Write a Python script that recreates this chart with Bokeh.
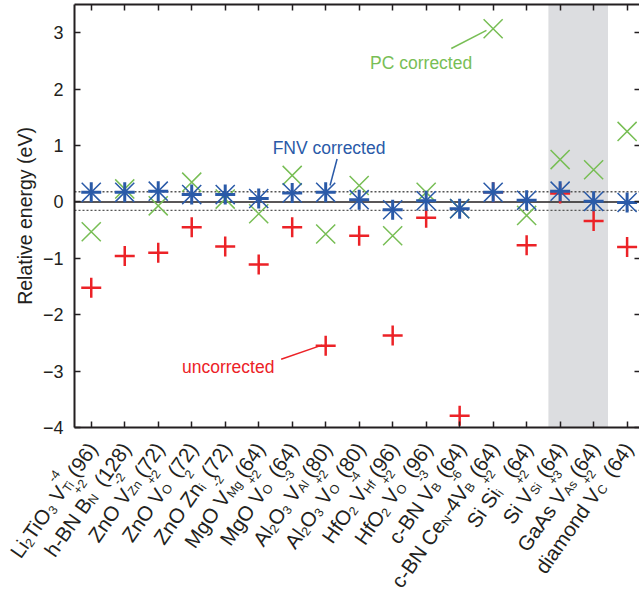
import math
from bokeh.plotting import figure
from bokeh.models import (ColumnDataSource, Label, FixedTicker, LinearAxis,
                          BoxAnnotation, Span, Range1d)
from bokeh.embed import file_html
from bokeh.resources import INLINE
from bokeh.core.properties import value

# ---------------- data ----------------
categories = ["Li2TiO3 VTi-4 (96)", "h-BN BN+2 (128)", "ZnO VZn-2 (72)", "ZnO VO+2 (72)",
              "ZnO Zni2 (72)", "MgO VMg-2 (64)", "MgO VO+2 (64)", "Al2O3 VAl-3 (80)",
              "Al2O3 VO+2 (80)", "HfO2 VHf-4 (96)", "HfO2 VO+2 (96)", "c-BN VB-3 (64)",
              "c-BN CeN-4VB-6 (64)", "Si Sii+2 (64)", "Si VSi+2 (64)", "GaAs VAs+3 (64)",
              "diamond VC+2 (64)"]

# tick labels split into (text, kind): n = normal, b = subscript, p = superscript
tick_label_parts = [
    [("Li", "n"), ("2", "b"), ("TiO", "n"), ("3", "b"), (" V", "n"), ("Ti", "b"), ("-4", "p"), (" (96)", "n")],
    [("h-BN B", "n"), ("N", "b"), ("+2", "p"), (" (128)", "n")],
    [("ZnO V", "n"), ("Zn", "b"), ("-2", "p"), (" (72)", "n")],
    [("ZnO V", "n"), ("O", "b"), ("+2", "p"), (" (72)", "n")],
    [("ZnO Zn", "n"), ("i", "b"), ("2", "p"), (" (72)", "n")],
    [("MgO V", "n"), ("Mg", "b"), ("-2", "p"), (" (64)", "n")],
    [("MgO V", "n"), ("O", "b"), ("+2", "p"), (" (64)", "n")],
    [("Al", "n"), ("2", "b"), ("O", "n"), ("3", "b"), (" V", "n"), ("Al", "b"), ("-3", "p"), (" (80)", "n")],
    [("Al", "n"), ("2", "b"), ("O", "n"), ("3", "b"), (" V", "n"), ("O", "b"), ("+2", "p"), (" (80)", "n")],
    [("HfO", "n"), ("2", "b"), (" V", "n"), ("Hf", "b"), ("-4", "p"), (" (96)", "n")],
    [("HfO", "n"), ("2", "b"), (" V", "n"), ("O", "b"), ("+2", "p"), (" (96)", "n")],
    [("c-BN V", "n"), ("B", "b"), ("-3", "p"), (" (64)", "n")],
    [("c-BN Ce", "n"), ("N", "b"), ("-4V", "n"), ("B", "b"), ("-6", "p"), (" (64)", "n")],
    [("Si Si", "n"), ("i", "b"), ("+2", "p"), (" (64)", "n")],
    [("Si V", "n"), ("Si", "b"), ("+2", "p"), (" (64)", "n")],
    [("GaAs V", "n"), ("As", "b"), ("+3", "p"), (" (64)", "n")],
    [("diamond V", "n"), ("C", "b"), ("+2", "p"), (" (64)", "n")],
]

uncorrected = [-1.52, -0.96, -0.90, -0.45, -0.79, -1.11, -0.45, -2.55, -0.60,
               -2.37, -0.28, -3.79, 0.17, -0.77, 0.15, -0.34, -0.80]
pc_corrected = [-0.53, 0.23, -0.07, 0.35, 0.05, -0.21, 0.47, -0.57, 0.29,
                -0.60, 0.17, -0.12, 3.07, -0.24, 0.75, 0.57, 1.25]
fnv_corrected = [0.17, 0.17, 0.19, 0.13, 0.13, 0.06, 0.16, 0.17, 0.04,
                 -0.14, 0.02, -0.12, 0.17, 0.03, 0.19, 0.01, -0.01]

band = [13.65, 15.43]
y_ticks = [-4, -3, -2, -1, 0, 1, 2, 3]
y_tick_labels = ["\u22124", "\u22123", "\u22122", "\u22121", "0", "1", "2", "3"]
tolerance_lines = [0.18, -0.15]

# annotations: text, position, pointer line
pc_note = dict(text="PC corrected", x=9.85, y=2.47, x0=10.75, y0=2.72, x1=11.8, y1=3.04)
fnv_note = dict(text="FNV corrected", x=7.1, y=0.96, x0=7.34, y0=0.76, x1=7.13, y1=0.29)
unc_note = dict(text="uncorrected", x=4.09, y=-2.92, x0=5.67, y0=-2.79, x1=6.89, y1=-2.54)

RED = "#EC2227"
GREEN = "#78BE55"
BLUE = "#2A5AA8"
INK = "#231F20"
FONT = "Liberation Sans"

# ---------------- layout constants ----------------
W_TOTAL, H_TOTAL = 639, 591
H_MAIN = 437
FRAME_LEFT, FRAME_TOP, FRAME_BOTTOM_PAD = 74, 4, 10
X_START, X_END = -0.5, 16.37

# ---------------- main figure ----------------
p = figure(width=W_TOTAL, height=H_MAIN, x_range=Range1d(X_START, X_END), y_range=Range1d(-4, 3.5),
           output_backend="svg", toolbar_location=None,
           min_border_left=FRAME_LEFT, min_border_right=0, min_border_top=FRAME_TOP,
           min_border_bottom=FRAME_BOTTOM_PAD)
p.outline_line_color = None
p.xgrid.visible = False
p.ygrid.visible = False
p.background_fill_color = "white"
p.border_fill_color = "white"

xs = list(range(len(categories)))
blank_x = {t: "" for t in xs}
blank_y = {t: "" for t in y_ticks}

p.xaxis.ticker = FixedTicker(ticks=xs)
p.xaxis.major_label_overrides = blank_x
p.xaxis.major_label_standoff = 0
p.xaxis.major_tick_in = 6
p.xaxis.major_tick_out = 0
p.xaxis.major_tick_line_width = 1.5
p.xaxis.axis_line_width = 2
p.xaxis.axis_line_color = INK
p.xaxis.major_tick_line_color = INK

p.yaxis.ticker = FixedTicker(ticks=y_ticks)
p.yaxis.major_label_overrides = {t: l for t, l in zip(y_ticks, y_tick_labels)}
p.yaxis.major_label_text_font_size = "18px"
p.yaxis.major_label_text_line_height = 1.0
p.yaxis.major_label_text_font = FONT
p.yaxis.major_label_text_color = INK
p.yaxis.major_label_standoff = 11
p.yaxis.major_tick_in = 6
p.yaxis.major_tick_out = 0
p.yaxis.major_tick_line_width = 1.5
p.yaxis.axis_line_width = 2
p.yaxis.axis_line_color = INK
p.yaxis.major_tick_line_color = INK
p.yaxis.axis_label = "Relative energy (eV)"
p.yaxis.axis_label_text_font = FONT
p.yaxis.axis_label_text_font_style = "normal"
p.yaxis.axis_label_text_font_size = "19.5px"
p.yaxis.axis_label_text_color = INK
p.yaxis.axis_label_standoff = 4

top_axis = LinearAxis(ticker=FixedTicker(ticks=xs), major_label_overrides=blank_x,
                      major_label_standoff=0, major_tick_in=6, major_tick_out=0,
                      major_tick_line_width=1.5, axis_line_width=2,
                      axis_line_color=INK, major_tick_line_color=INK)
p.add_layout(top_axis, "above")
right_axis = LinearAxis(ticker=FixedTicker(ticks=y_ticks), major_label_overrides=blank_y,
                        major_label_standoff=0, major_tick_in=5, major_tick_out=0,
                        major_tick_line_width=1.5, axis_line_color=None,
                        major_tick_line_color=INK)
p.add_layout(right_axis, "right")

p.add_layout(BoxAnnotation(left=band[0], right=band[1], fill_color="#DCDDE0", fill_alpha=1.0,
                           line_color=None, level="underlay"))
p.add_layout(Span(location=0, dimension="width", line_color=INK, line_width=1.5, level="underlay"))
for loc in tolerance_lines:
    p.add_layout(Span(location=loc, dimension="width", line_color="#555555", line_width=1.3,
                      line_dash="2 2", level="underlay"))

src = ColumnDataSource(dict(x=xs, unc=uncorrected, pc=pc_corrected, fnv=fnv_corrected))
p.scatter("x", "unc", source=src, marker="cross", size=20, line_color=RED, line_width=2.5)
p.scatter("x", "pc", source=src, marker="x", size=27, line_color=GREEN, line_width=1.5)
p.scatter("x", "fnv", source=src, marker="x", size=27, line_color=BLUE, line_width=1.5)
p.scatter("x", "fnv", source=src, marker="cross", size=20, line_color=BLUE, line_width=3)

for note, col in [(pc_note, GREEN), (fnv_note, BLUE), (unc_note, RED)]:
    p.segment(x0=[note["x0"]], y0=[note["y0"]], x1=[note["x1"]], y1=[note["y1"]],
              line_color=col, line_width=1.5)
    p.add_layout(Label(x=note["x"], y=note["y"], text=note["text"], text_color=col,
                       text_font=FONT, text_font_size="17.5px", text_align="center",
                       text_baseline="middle"))

# ---------------- label strip: rotated rich tick labels ----------------
H_LAB = H_TOTAL - H_MAIN
frame_w = W_TOTAL - FRAME_LEFT
px_per_unit = frame_w / (X_END - X_START)
x2_start = X_START - FRAME_LEFT / px_per_unit
q = figure(width=W_TOTAL, height=H_LAB, x_range=Range1d(x2_start, X_END),
           y_range=Range1d(-H_LAB, 0), output_backend="svg", toolbar_location=None,
           x_axis_location=None, y_axis_location=None,
           min_border_left=0, min_border_right=0, min_border_top=0, min_border_bottom=0)
q.outline_line_color = None
q.xgrid.visible = False
q.ygrid.visible = False
q.border_fill_color = "white"

W1000 = {' ': 278, '(': 333, ')': 333, '-': 333, '+': 584,
         'A': 667, 'B': 667, 'C': 722, 'G': 778, 'H': 722, 'L': 556, 'M': 833, 'N': 722,
         'O': 778, 'S': 667, 'T': 611, 'V': 667, 'Z': 611,
         'a': 556, 'c': 500, 'd': 556, 'e': 556, 'f': 278, 'g': 556, 'h': 556, 'i': 222,
         'l': 222, 'm': 833, 'n': 556, 'o': 556, 'r': 333, 's': 500, 't': 278}


def text_width(s, size):
    return sum(W1000.get(ch, 556) for ch in s) * size / 1000.0


MAIN, SMALL = 20.5, 12.5
SHIFT = {"n": 0.0, "b": -5.0, "p": 13.5}
axis_bottom_px = H_MAIN - FRAME_BOTTOM_PAD
END_DX, END_DY = 1.0, 17.0
ANG = math.radians(55)
ca, sa = math.cos(ANG), math.sin(ANG)

lab = {"n": dict(x=[], y=[], text=[]), "s": dict(x=[], y=[], text=[])}
for i, parts in enumerate(tick_label_parts):
    placed = []
    cursor = 0.0
    prev = None
    for text, kind in parts:
        size = MAIN if kind == "n" else SMALL
        w = text_width(text, size)
        if kind == "p" and prev is not None and prev[1] == "b":
            start = prev[2]
            cursor = max(cursor, start + w)
        else:
            start = cursor
            cursor = start + w
        stripped = text.lstrip(" ")
        lead = text_width(text[:len(text) - len(stripped)], size)
        placed.append((stripped, kind, start + lead))
        prev = (text, kind, start)
    total = cursor
    for text, kind, start in placed:
        t = start - total
        sh = SHIFT[kind]
        ox = END_DX + t * ca - sh * sa
        oy_down = (axis_bottom_px + END_DY - H_MAIN) - t * sa - sh * ca
        d = lab["n"] if kind == "n" else lab["s"]
        d["x"].append(xs[i] + ox / px_per_unit)
        d["y"].append(-oy_down)
        d["text"].append(text)

for key, size in [("n", MAIN), ("s", SMALL)]:
    q.text(x="x", y="y", text="text", source=ColumnDataSource(lab[key]), angle=ANG,
           text_font=value(FONT), text_font_size=value("%spx" % size), text_color=INK,
           text_align="left", text_baseline="alphabetic")

# two independent roots stacked vertically (no frame alignment between them)
open("out.html", "w").write(file_html([p, q], INLINE))
